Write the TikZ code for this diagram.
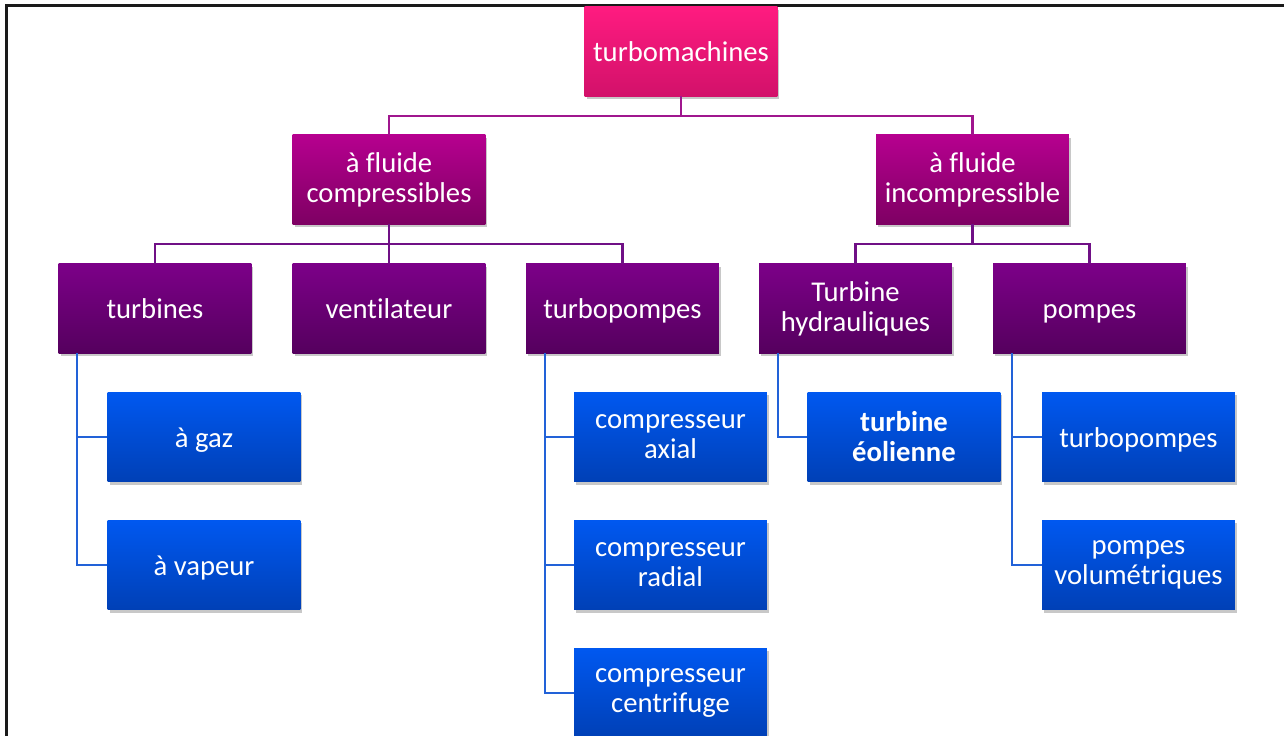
\documentclass[tikz,border=0pt]{standalone}
\usepackage{fontspec}
\setmainfont{Carlito}[Ligatures={NoCommon,NoRare,NoDiscretionary}]
\usetikzlibrary{shadows}
\definecolor{pinkT}{HTML}{FF1B80}
\definecolor{pinkB}{HTML}{D2116A}
\definecolor{magT}{HTML}{B6008F}
\definecolor{magB}{HTML}{7E0063}
\definecolor{purT}{HTML}{7C0088}
\definecolor{purB}{HTML}{55005E}
\definecolor{bluT}{HTML}{0058F0}
\definecolor{bluB}{HTML}{0040B6}
\definecolor{lineA}{HTML}{A0168E}
\definecolor{lineB}{HTML}{701086}
\definecolor{lineC}{HTML}{2262D8}
\definecolor{frame}{HTML}{1A1A1A}
\begin{document}
\begin{tikzpicture}[x=0.75pt,y=-0.75pt,
  box/.style={rectangle, minimum width=144.5pt, minimum height=67pt,
    inner sep=2pt, align=center, text=white,
    font=\fontsize{21.5}{22.5}\selectfont,
    drop shadow={shadow xshift=1.6pt, shadow yshift=-2.2pt, opacity=0.3, fill=black!70}},
  oneline/.style={text height=19.5pt, text depth=4.5pt},
  lvlA/.style={box, top color=pinkT, bottom color=pinkB},
  lvlB/.style={box, top color=magT, bottom color=magB},
  lvlC/.style={box, top color=purT, bottom color=purB},
  lvlD/.style={box, top color=bluT, bottom color=bluB},
  linkA/.style={draw=lineA, line width=1.6pt},
  linkB/.style={draw=lineB, line width=1.6pt},
  linkC/.style={draw=lineC, line width=1.6pt}]
\useasboundingbox (0,0) rectangle (1284,735);
\fill[white] (0,0) rectangle (1284,735);

% outer frame (top and left edges)
\draw[frame, line width=2.25pt] (6,740) -- (6,6) -- (1290,6);

% boxes
\node[lvlA, oneline] (root) at (681,51.5) {turbomachines};
\node[lvlB] (comp) at (389,179.5) {à fluide\\compressibles};
\node[lvlB] (incomp) at (972.5,179.5) {à fluide\\incompressible};

\node[lvlC, oneline] (turb) at (155,308.5) {turbines};
\node[lvlC, oneline] (vent) at (389,308.5) {ventilateur};
\node[lvlC, oneline] (tpA) at (622.5,308.5) {turbopompes};
\node[lvlC] (hydr) at (855.5,308.5) {Turbine\\hydrauliques};
\node[lvlC, oneline] (pomp) at (1089.5,308.5) {pompes};

\node[lvlD, oneline] (gaz) at (204,437) {à gaz};
\node[lvlD, oneline] (vap) at (204,565) {à vapeur};
\node[lvlD] (axial) at (670.5,437) {compresseur\\axial};
\node[lvlD] (radial) at (670.5,565) {compresseur\\radial};
\node[lvlD] (centri) at (670.5,693) {compresseur\\centrifuge};
\node[lvlD] (eol) at (904,437) {\bfseries turbine\\\bfseries éolienne};
\node[lvlD, oneline] (tpB) at (1138.5,437) {turbopompes};
\node[lvlD] (volu) at (1138.5,565) {pompes\\volumétriques};

% tree links, level 1
\draw[linkA] (root.south) -- ++(0,19.5) -| (comp.north);
\draw[linkA] (root.south) -- ++(0,19.5) -| (incomp.north);
% level 2
\draw[linkB] (comp.south) -- ++(0,19.5) -| (turb.north);
\draw[linkB] (comp.south) -- (vent.north);
\draw[linkB] (comp.south) -- ++(0,19.5) -| (tpA.north);
\draw[linkB] (incomp.south) -- ++(0,19.5) -| (hydr.north);
\draw[linkB] (incomp.south) -- ++(0,19.5) -| (pomp.north);
% level 3
\draw[linkC] ([xshift=14.2pt]turb.south west) |- (gaz.west);
\draw[linkC] ([xshift=14.2pt]turb.south west) |- (vap.west);
\draw[linkC] ([xshift=14.2pt]tpA.south west) |- (axial.west);
\draw[linkC] ([xshift=14.2pt]tpA.south west) |- (radial.west);
\draw[linkC] ([xshift=14.2pt]tpA.south west) |- (centri.west);
\draw[linkC] ([xshift=14.2pt]hydr.south west) |- (eol.west);
\draw[linkC] ([xshift=14.2pt]pomp.south west) |- (tpB.west);
\draw[linkC] ([xshift=14.2pt]pomp.south west) |- (volu.west);
\end{tikzpicture}
\end{document}
